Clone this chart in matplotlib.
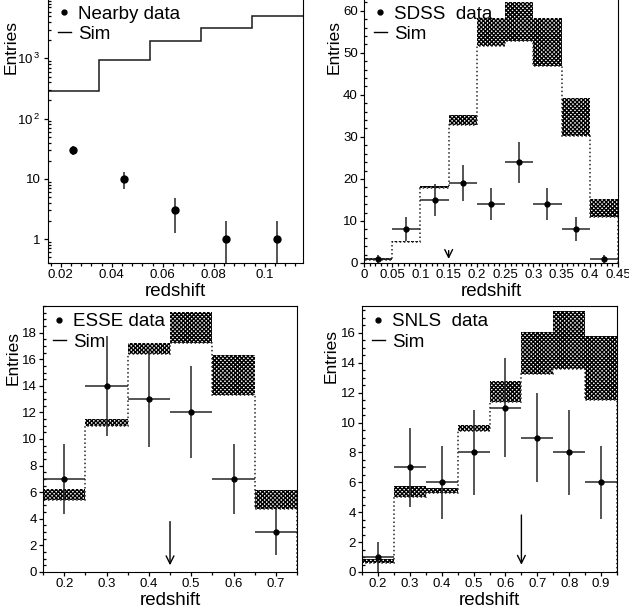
import numpy as np
import matplotlib
matplotlib.use('Agg')
import matplotlib.pyplot as plt
from matplotlib.lines import Line2D
from matplotlib.ticker import MultipleLocator, FixedLocator, FuncFormatter, LogLocator, NullFormatter

plt.rcParams['font.family'] = ['Liberation Sans', 'DejaVu Sans']
plt.rcParams['mathtext.fontset'] = 'custom'
plt.rcParams['mathtext.rm'] = 'Liberation Sans'
plt.rcParams['mathtext.default'] = 'regular'
plt.rcParams['hatch.linewidth'] = 1.0

# Nearby sample (log scale)
nearby_edges = [0.015, 0.035, 0.055, 0.075, 0.095, 0.115]
nearby_sim = [285, 930, 1940, 3240, 5070]
nearby_x = [0.025, 0.045, 0.065, 0.085, 0.105]
nearby_n = [30, 10, 3, 1, 1]

# SDSS
sdss_edges = [0.0, 0.05, 0.1, 0.15, 0.2, 0.25, 0.3, 0.35, 0.4, 0.45]
sdss_lo = [0.8, 4.9, 17.9, 32.9, 51.6, 52.7, 46.9, 30.3, 11.0]
sdss_hi = [1.1, 5.2, 18.4, 35.3, 58.3, 62.1, 58.3, 39.3, 15.2]
sdss_x = [0.025, 0.075, 0.125, 0.175, 0.225, 0.275, 0.325, 0.375, 0.425]
sdss_n = [1, 8, 15, 19, 14, 24, 14, 8, 1]
sdss_arrow = 0.15

# ESSE
esse_edges = [0.15, 0.25, 0.35, 0.45, 0.55, 0.65, 0.75]
esse_lo = [5.44, 11.0, 16.4, 17.2, 13.3, 4.76]
esse_hi = [6.27, 11.53, 17.2, 19.55, 16.3, 6.2]
esse_x = [0.2, 0.3, 0.4, 0.5, 0.6, 0.7]
esse_n = [7, 14, 13, 12, 7, 3]
esse_arrow = 0.45

# SNLS
snls_edges = [0.15, 0.25, 0.35, 0.45, 0.55, 0.65, 0.75, 0.85, 0.95]
snls_lo = [0.6, 5.0, 5.29, 9.46, 11.36, 13.26, 13.6, 11.54]
snls_hi = [0.85, 5.74, 5.62, 9.82, 12.77, 16.05, 17.45, 15.8]
snls_x = [0.2, 0.3, 0.4, 0.5, 0.6, 0.7, 0.8, 0.9]
snls_n = [1, 7, 6, 8, 11, 9, 8, 6]
snls_arrow = 0.65

fig = plt.figure(figsize=(6.29, 6.13), dpi=100)
ax1 = fig.add_axes([0.0763, 0.571, 0.4054, 0.432])
ax2 = fig.add_axes([0.5787, 0.571, 0.4038, 0.432])
ax3 = fig.add_axes([0.0684, 0.0669, 0.4038, 0.4339])
ax4 = fig.add_axes([0.5755, 0.0669, 0.4055, 0.4339])

fmt_g = FuncFormatter(lambda v, p: '%g' % round(v, 4))


def style(ax, label, ytop, xlab=-0.09):
    ax.tick_params(which='both', top=False, right=False, labelsize=9.5, width=0.9)
    ax.tick_params(axis='x', which='major', direction='out', length=3, pad=1.5)
    ax.tick_params(axis='x', which='minor', direction='out', length=2)
    ax.tick_params(axis='y', which='major', direction='out', length=3, pad=1.5)
    ax.tick_params(axis='y', which='minor', direction='in', length=2.5)
    ax.set_xlabel('redshift', fontsize=13.5, labelpad=1)
    ax.set_ylabel('Entries', fontsize=12.5, loc='top')
    ax.yaxis.set_label_coords(xlab, ytop)
    handles = [Line2D([], [], marker='o', ls='none', ms=3.5, color='k'),
               Line2D([], [], color='k', lw=1)]
    ax.legend(handles, [label, 'Sim'], loc='upper left', frameon=False, fontsize=13.5,
              handlelength=0.7, handletextpad=0.4, labelspacing=0.16,
              borderaxespad=0.0, borderpad=0.25, bbox_to_anchor=(0.02, 0.99))


def hist_panel(ax, edges, lo, hi, x, n, arrow, label, ytop):
    ax.stairs(hi, edges, baseline=lo, fill=True, facecolor='white', edgecolor='black',
              hatch='xxxxxxxx', lw=0)
    ax.stairs(lo, edges, color='0.15', ls=':', lw=1.1)
    n = np.array(n, dtype=float)
    ax.errorbar(x, n, yerr=np.sqrt(n), xerr=0.5 * (edges[1] - edges[0]),
                fmt='o', ms=3.5, color='k', ecolor='0.15', elinewidth=1.1, capsize=0)
    ax.annotate('', xy=(arrow, 0.3), xytext=(arrow, 4.0 if arrow > 0.2 else 3.6),
                arrowprops=dict(arrowstyle='->', color='k', lw=1, mutation_scale=14))
    ax.set_xlim(edges[0], edges[-1])
    ax.xaxis.set_major_formatter(fmt_g)
    style(ax, label, ytop)


# panel 1
ax1.stairs(nearby_sim, nearby_edges, baseline=None, color='0.1', lw=1.1)
nn = np.array(nearby_n, dtype=float)
ax1.errorbar(nearby_x, nn, yerr=np.sqrt(nn), fmt='o', ms=5, color='k', ecolor='0.15',
             elinewidth=1.1, capsize=0)
ax1.set_yscale('log')
ax1.set_xlim(0.015, 0.115)
ax1.set_ylim(0.4, 10000)
ax1.yaxis.set_major_locator(FixedLocator([1, 10, 100, 1000]))
ax1.yaxis.set_major_formatter(FuncFormatter(
    lambda v, p: {1: '1', 10: '10', 100: r'$10^{\,2}$', 1000: r'$10^{\,3}$'}.get(int(round(v)), '')))
ax1.yaxis.set_minor_locator(LogLocator(base=10, subs=np.arange(2, 10)))
ax1.yaxis.set_minor_formatter(NullFormatter())
ax1.xaxis.set_major_locator(MultipleLocator(0.02))
ax1.xaxis.set_minor_locator(MultipleLocator(0.004))
ax1.xaxis.set_major_formatter(fmt_g)
style(ax1, 'Nearby data', 0.916, xlab=-0.115)
ax1.tick_params(axis='y', which='major', pad=2.5)

# panel 2
hist_panel(ax2, sdss_edges, sdss_lo, sdss_hi, sdss_x, sdss_n, sdss_arrow, 'SDSS  data', 0.916)
ax2.set_ylim(0, 63)
ax2.xaxis.set_major_locator(MultipleLocator(0.05))
ax2.xaxis.set_minor_locator(MultipleLocator(0.01))
ax2.yaxis.set_major_locator(MultipleLocator(10))
ax2.yaxis.set_minor_locator(MultipleLocator(2))

# panel 3
hist_panel(ax3, esse_edges, esse_lo, esse_hi, esse_x, esse_n, esse_arrow, 'ESSE data', 0.905)
ax3.set_ylim(0, 20)
ax3.xaxis.set_major_locator(MultipleLocator(0.1))
ax3.xaxis.set_minor_locator(MultipleLocator(0.05))
ax3.yaxis.set_major_locator(FixedLocator(np.arange(0, 19, 2)))
ax3.yaxis.set_minor_locator(MultipleLocator(0.5))

# panel 4
hist_panel(ax4, snls_edges, snls_lo, snls_hi, snls_x, snls_n, snls_arrow, 'SNLS  data', 0.915)
ax4.set_ylim(0, 17.8)
ax4.xaxis.set_major_locator(MultipleLocator(0.1))
ax4.xaxis.set_minor_locator(MultipleLocator(0.05))
ax4.yaxis.set_major_locator(FixedLocator(np.arange(0, 17, 2)))
ax4.yaxis.set_minor_locator(MultipleLocator(0.5))

fig.savefig('out.png', dpi=100)
